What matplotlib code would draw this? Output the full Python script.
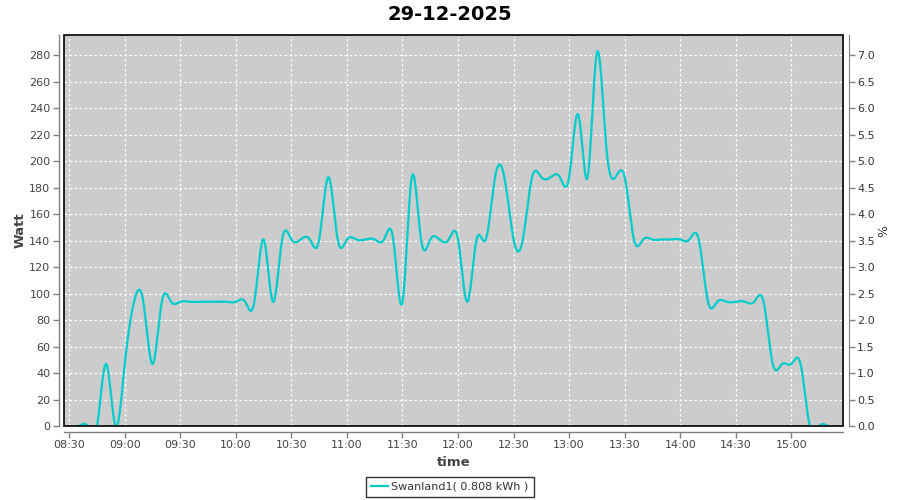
import numpy as np
import pandas as pd
import matplotlib
matplotlib.use("Agg")
import matplotlib.pyplot as plt
import matplotlib.dates as mdates
from matplotlib.patches import Rectangle

# ---------------- data ----------------
title = "29-12-2025"
day = "2025-12-29"
times = [
    "08:30", "08:35", "08:40", "08:45", "08:50", "08:55",
    "09:00", "09:05", "09:10", "09:15", "09:20", "09:25", "09:30", "09:35", "09:40", "09:45", "09:50", "09:55",
    "10:00", "10:05", "10:10", "10:15", "10:20", "10:25", "10:30", "10:35", "10:40", "10:45", "10:50", "10:55",
    "11:00", "11:05", "11:10", "11:15", "11:20", "11:25", "11:30", "11:35", "11:40", "11:45", "11:50", "11:55",
    "12:00", "12:05", "12:10", "12:15", "12:20", "12:25", "12:30", "12:35", "12:40", "12:45", "12:50", "12:55",
    "13:00", "13:05", "13:10", "13:15", "13:20", "13:25", "13:30", "13:35", "13:40", "13:45", "13:50", "13:55",
    "14:00", "14:05", "14:10", "14:15", "14:20", "14:25", "14:30", "14:35", "14:40", "14:45", "14:50", "14:55",
    "15:00", "15:05", "15:10", "15:15", "15:20",
]
watts = [
    0, 0, 0, 0, 47, 0,
    47, 94, 94, 47, 94, 94, 94, 94, 94, 94, 94, 94,
    94, 94, 94, 141, 94, 141, 141, 141, 141, 141, 188, 141,
    141, 141, 141, 141, 141, 141, 94, 188, 141, 141, 141, 141,
    141, 94, 141, 141, 188, 188, 141, 141, 188, 188, 188, 188,
    188, 235, 188, 282, 212, 188, 188, 141, 141, 141, 141, 141,
    141, 141, 141, 94, 94, 94, 94, 94, 94, 94, 47, 47,
    47, 47, 0, 0, 0,
]
series_label = "Swanland1( 0.808 kWh )"
x_ticks = ["08:30", "09:00", "09:30", "10:00", "10:30", "11:00", "11:30", "12:00",
           "12:30", "13:00", "13:30", "14:00", "14:30", "15:00"]
y_ticks = [0, 20, 40, 60, 80, 100, 120, 140, 160, 180, 200, 220, 240, 260, 280]
pct_ticks = [0.0, 0.5, 1.0, 1.5, 2.0, 2.5, 3.0, 3.5, 4.0, 4.5, 5.0, 5.5, 6.0, 6.5, 7.0]
x_range = ("08:27:20", "15:28:05")
y_max = 295.3
pct_per_watt = 1 / 40.0

# ---------------- rendering helpers ----------------
def natural_spline(x, y, xs):
    """Natural cubic spline renderer (like JFreeChart's XYSplineRenderer)."""
    x = np.asarray(x, float); y = np.asarray(y, float)
    n = len(x); h = np.diff(x)
    A = np.zeros((n, n)); r = np.zeros(n)
    A[0, 0] = 1; A[-1, -1] = 1
    for i in range(1, n - 1):
        A[i, i - 1] = h[i - 1]
        A[i, i] = 2 * (h[i - 1] + h[i])
        A[i, i + 1] = h[i]
        r[i] = 6 * ((y[i + 1] - y[i]) / h[i] - (y[i] - y[i - 1]) / h[i - 1])
    M = np.linalg.solve(A, r)
    idx = np.clip(np.searchsorted(x, xs) - 1, 0, n - 2)
    x0 = x[idx]; x1 = x[idx + 1]; hh = x1 - x0
    a = (x1 - xs) / hh; b = (xs - x0) / hh
    return (a * y[idx] + b * y[idx + 1]
            + ((a ** 3 - a) * M[idx] + (b ** 3 - b) * M[idx + 1]) * hh ** 2 / 6)

t = pd.to_datetime([f"{day} {s}" for s in times])
tnum = mdates.date2num(t)
tmin = (tnum - tnum[0]) * 24 * 60
fine_min = np.linspace(tmin[0], tmin[-1], 3000)
fine_y = natural_spline(tmin, watts, fine_min)
fine_t = tnum[0] + fine_min / (24 * 60)

# ---------------- figure ----------------
W, H = 900, 500
fig = plt.figure(figsize=(W / 100, H / 100), dpi=100)
fig.patch.set_facecolor("white")
L, R, T, B = 64.3, 843.3, 35.0, 426.3
ax = fig.add_axes([L / W, 1 - B / H, (R - L) / W, (B - T) / H])
ax.set_facecolor("#cccccc")

line_color = "#00cccc"
ax.plot(fine_t, fine_y, color=line_color, lw=1.6, label=series_label, zorder=3,
        solid_joinstyle="round")

xlo = mdates.date2num(pd.Timestamp(f"{day} {x_range[0]}"))
xhi = mdates.date2num(pd.Timestamp(f"{day} {x_range[1]}"))
ax.set_xlim(xlo, xhi)
ax.set_ylim(0, y_max)

xt = mdates.date2num(pd.to_datetime([f"{day} {s}" for s in x_ticks]))
ax.set_xticks(xt)
ax.set_xticklabels(x_ticks)
ax.set_yticks(y_ticks)
ax.set_yticklabels([str(v) for v in y_ticks])

ax.grid(True, color="white", lw=0.9, linestyle=(0, (2, 2)))
ax.set_axisbelow(True)

axis_gray = "#808080"
for s in ["top", "right"]:
    ax.spines[s].set_visible(False)
for s in ["left", "bottom"]:
    ax.spines[s].set_position(("outward", 4))
    ax.spines[s].set_color(axis_gray)
    ax.spines[s].set_linewidth(1.0)
ax.tick_params(axis="both", colors=axis_gray, length=4, width=1.0, labelsize=8,
               labelcolor="#444444", pad=2)

ax2 = ax.twinx()
ax2.set_ylim(0, y_max * pct_per_watt)
ax2.set_yticks(pct_ticks)
ax2.set_yticklabels([f"{v:.1f}" for v in pct_ticks])
for s in ["top", "left", "bottom"]:
    ax2.spines[s].set_visible(False)
ax2.spines["right"].set_position(("outward", 4))
ax2.spines["right"].set_color(axis_gray)
ax2.tick_params(axis="y", colors=axis_gray, length=4, width=1.0, labelsize=8,
                labelcolor="#333333", pad=2)
ax2.set_ylabel("%", fontsize=9, color="#333333", labelpad=2)

# plot outline
ax.add_patch(Rectangle((0, 0), 1, 1, transform=ax.transAxes, fill=False,
                       edgecolor="black", lw=1.2, zorder=10, clip_on=False))

ax.set_xlabel("time", fontsize=9.5, fontweight="bold", color="#444444", labelpad=4)
ax.set_ylabel("Watt", fontsize=9.5, fontweight="bold", color="#444444", labelpad=2)
fig.suptitle(title, fontsize=14, fontweight="bold", y=0.99, color="black")

leg = fig.legend(loc="lower center", bbox_to_anchor=(0.5, 0.0), frameon=True,
                 fontsize=8, fancybox=False, handlelength=1.5, handletextpad=0.3,
                 borderpad=0.45, borderaxespad=0.3)
leg.get_frame().set_edgecolor("black")
leg.get_frame().set_linewidth(1.0)
for txt in leg.get_texts():
    txt.set_color("#333333")

fig.savefig("out.png", dpi=100)
